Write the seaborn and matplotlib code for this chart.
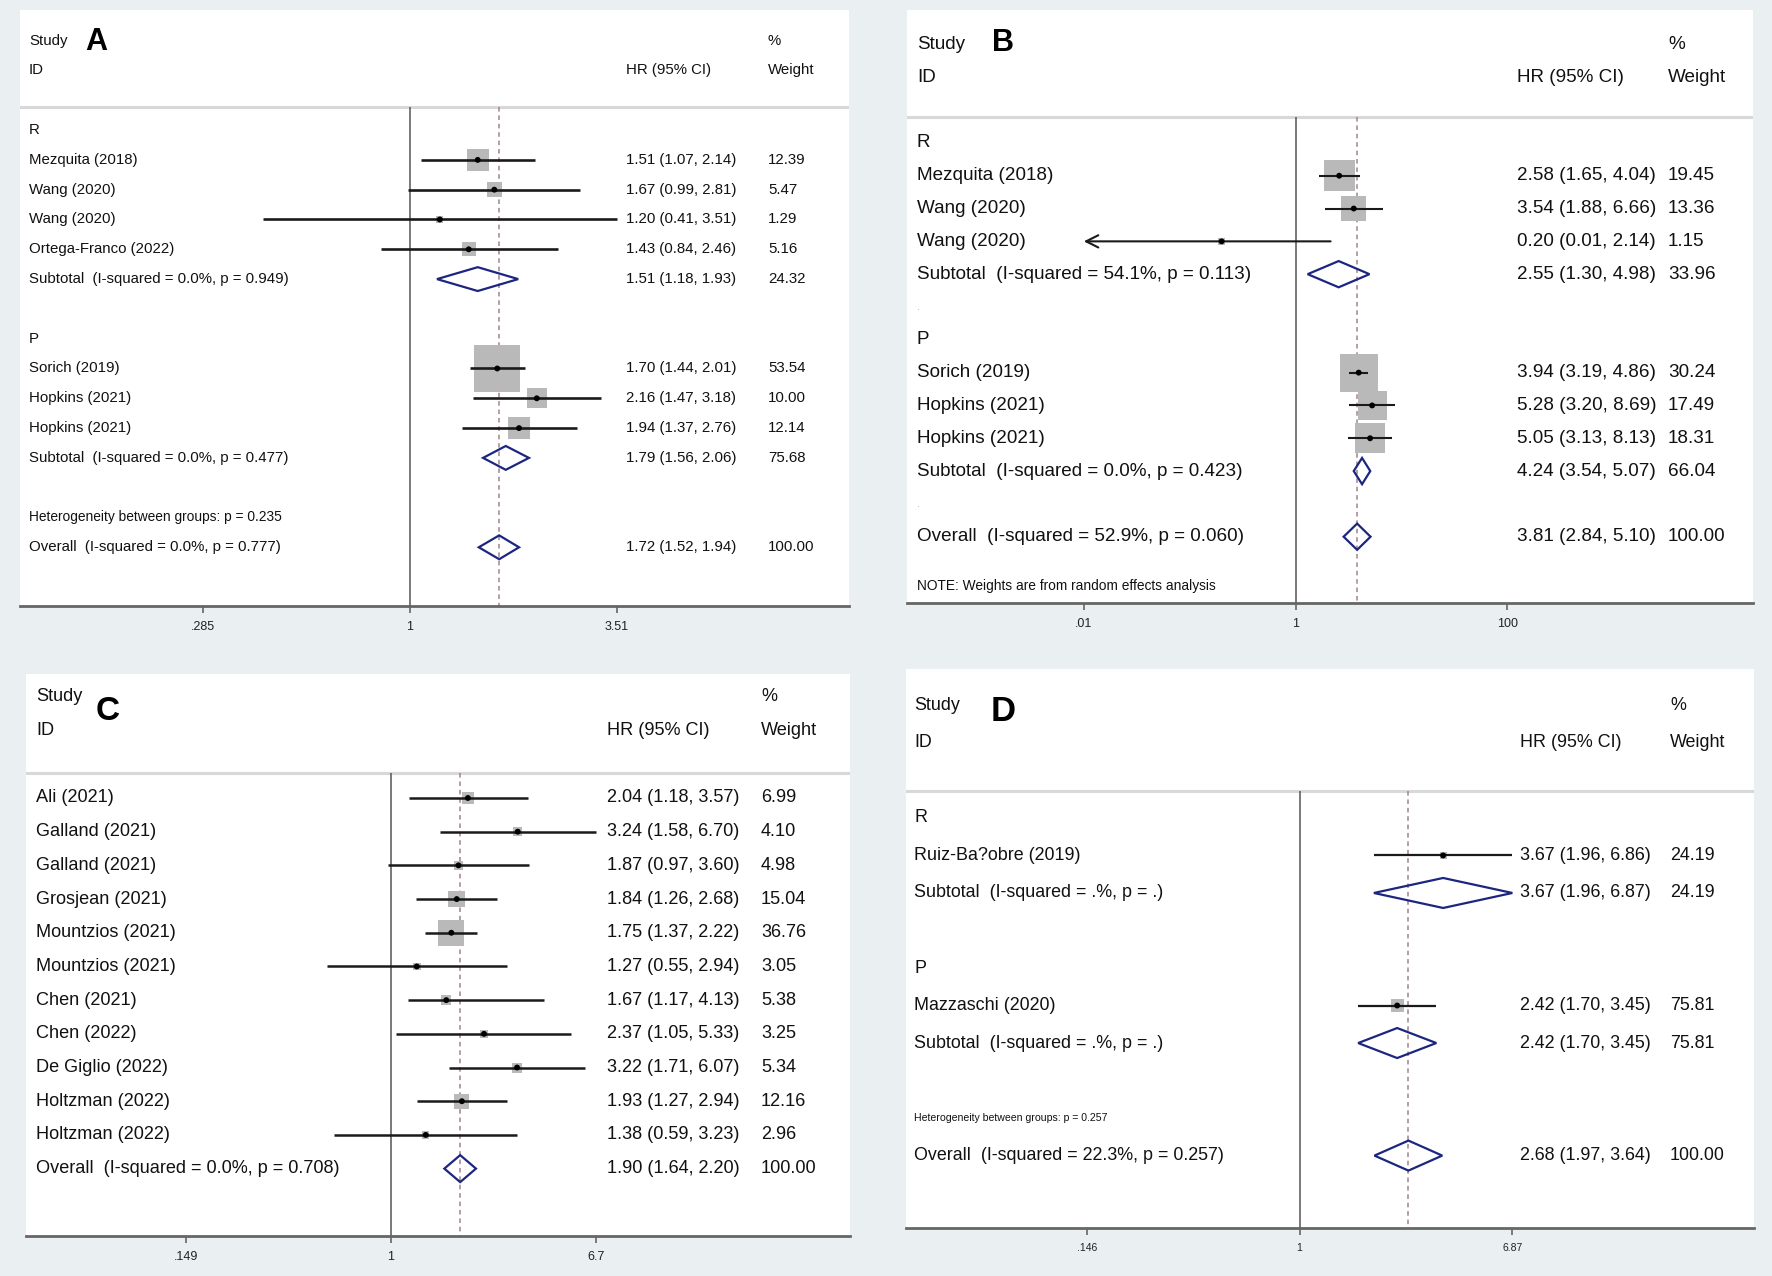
import numpy as np
import matplotlib
matplotlib.use("Agg")
import matplotlib.pyplot as plt
import seaborn as sns
from matplotlib.transforms import blended_transform_factory

nan = np.nan

# ---------------- Panel A ----------------
A_labels = ["R", "Mezquita (2018)", "Wang (2020)", "Wang (2020)", "Ortega-Franco (2022)",
            "Subtotal  (I-squared = 0.0%, p = 0.949)", "", "P", "Sorich (2019)",
            "Hopkins (2021)", "Hopkins (2021)", "Subtotal  (I-squared = 0.0%, p = 0.477)", "",
            "Heterogeneity between groups: p = 0.235", "Overall  (I-squared = 0.0%, p = 0.777)"]
A_kind = ["head", "study", "study", "study", "study", "pool", "blank", "head", "study",
          "study", "study", "pool", "blank", "note", "pool"]
A_hr = [nan, 1.51, 1.67, 1.20, 1.43, 1.51, nan, nan, 1.70, 2.16, 1.94, 1.79, nan, nan, 1.72]
A_lo = [nan, 1.07, 0.99, 0.41, 0.84, 1.18, nan, nan, 1.44, 1.47, 1.37, 1.56, nan, nan, 1.52]
A_hi = [nan, 2.14, 2.81, 3.51, 2.46, 1.93, nan, nan, 2.01, 3.18, 2.76, 2.06, nan, nan, 1.94]
A_wt = [nan, 12.39, 5.47, 1.29, 5.16, 24.32, nan, nan, 53.54, 10.00, 12.14, 75.68, nan, nan, 100.00]
A_ticks = [0.285, 1, 3.51]
A_ticklabels = [".285", "1", "3.51"]
A_arrow_rows = []
A_footnote = ""

# ---------------- Panel B ----------------
B_labels = ["R", "Mezquita (2018)", "Wang (2020)", "Wang (2020)",
            "Subtotal  (I-squared = 54.1%, p = 0.113)", ".", "P", "Sorich (2019)",
            "Hopkins (2021)", "Hopkins (2021)", "Subtotal  (I-squared = 0.0%, p = 0.423)", ".",
            "Overall  (I-squared = 52.9%, p = 0.060)"]
B_kind = ["head", "study", "study", "study", "pool", "dot", "head", "study", "study", "study",
          "pool", "dot", "pool"]
B_hr = [nan, 2.58, 3.54, 0.20, 2.55, nan, nan, 3.94, 5.28, 5.05, 4.24, nan, 3.81]
B_lo = [nan, 1.65, 1.88, 0.01, 1.30, nan, nan, 3.19, 3.20, 3.13, 3.54, nan, 2.84]
B_hi = [nan, 4.04, 6.66, 2.14, 4.98, nan, nan, 4.86, 8.69, 8.13, 5.07, nan, 5.10]
B_wt = [nan, 19.45, 13.36, 1.15, 33.96, nan, nan, 30.24, 17.49, 18.31, 66.04, nan, 100.00]
B_ticks = [0.01, 1, 100]
B_ticklabels = [".01", "1", "100"]
B_arrow_rows = [3]
B_footnote = "NOTE: Weights are from random effects analysis"

# ---------------- Panel C ----------------
C_labels = ["Ali (2021)", "Galland (2021)", "Galland (2021)", "Grosjean (2021)",
            "Mountzios (2021)", "Mountzios (2021)", "Chen (2021)", "Chen (2022)",
            "De Giglio (2022)", "Holtzman (2022)", "Holtzman (2022)",
            "Overall  (I-squared = 0.0%, p = 0.708)"]
C_kind = ["study"] * 11 + ["pool"]
C_hr = [2.04, 3.24, 1.87, 1.84, 1.75, 1.27, 1.67, 2.37, 3.22, 1.93, 1.38, 1.90]
C_lo = [1.18, 1.58, 0.97, 1.26, 1.37, 0.55, 1.17, 1.05, 1.71, 1.27, 0.59, 1.64]
C_hi = [3.57, 6.70, 3.60, 2.68, 2.22, 2.94, 4.13, 5.33, 6.07, 2.94, 3.23, 2.20]
C_wt = [6.99, 4.10, 4.98, 15.04, 36.76, 3.05, 5.38, 3.25, 5.34, 12.16, 2.96, 100.00]
C_ticks = [0.149, 1, 6.7]
C_ticklabels = [".149", "1", "6.7"]
C_arrow_rows = []
C_footnote = ""

# ---------------- Panel D ----------------
D_labels = ["R", "Ruiz-Ba?obre (2019)", "Subtotal  (I-squared = .%, p = .)", "", "P",
            "Mazzaschi (2020)", "Subtotal  (I-squared = .%, p = .)", "",
            "Heterogeneity between groups: p = 0.257", "Overall  (I-squared = 22.3%, p = 0.257)"]
D_kind = ["head", "study", "pool", "blank", "head", "study", "pool", "blank", "note", "pool"]
D_hr = [nan, 3.67, 3.67, nan, nan, 2.42, 2.42, nan, nan, 2.68]
D_lo = [nan, 1.96, 1.96, nan, nan, 1.70, 1.70, nan, nan, 1.97]
D_hi = [nan, 6.86, 6.87, nan, nan, 3.45, 3.45, nan, nan, 3.64]
D_wt = [nan, 24.19, 24.19, nan, nan, 75.81, 75.81, nan, nan, 100.00]
D_ticks = [0.146, 1, 6.87]
D_ticklabels = [".146", "1", "6.87"]
D_arrow_rows = []
D_footnote = ""

# ---------------- styling / layout ----------------
W, H = 1772, 1276
BG = "#eaeff1"
NAVY = "#1c2680"
DASH = "#a0828a"
BOXC = "#b9b9b9"
FONT = ["Liberation Sans", "DejaVu Sans"]

sns.set_theme(style="white")
plt.rcParams["font.family"] = FONT

fig = plt.figure(figsize=(W / 100, H / 100), dpi=100, facecolor=BG)

layouts = {
    "A": dict(box=(20, 849, 10, 606), one=409.7, ppl=165.0, ylim=(15.97, -4.03),
              cols=(29, 626, 768), fs=10.8, nfs=9.9, tfs=9.0, k=6.29, lw=1.9,
              letter=(96, 42, 22), sep=-0.77),
    "B": dict(box=(907, 1753, 10, 603), one=1295.6, ppl=46.0, ylim=(14.02, -4.05),
              cols=(917, 1517, 1668), fs=13.6, nfs=9.9, tfs=9.0, k=6.95, lw=1.5,
              letter=(1003, 43, 22), sep=-0.8),
    "C": dict(box=(26, 850, 674, 1236), one=391.0, ppl=107.8, ylim=(13.0, -3.68),
              cols=(36, 607, 761), fs=13.1, nfs=10.0, tfs=9.0, k=4.3, lw=1.8,
              letter=(108, 711, 24), sep=-0.74),
    "D": dict(box=(906, 1754, 669, 1228), one=1299.6, ppl=110.4, ylim=(10.93, -3.97),
              cols=(914, 1520, 1670), fs=12.9, nfs=7.6, tfs=7.5, k=1.46, lw=1.6,
              letter=(1003, 711, 25), sep=-0.72),
}

panels = {
    "A": (A_labels, A_kind, A_hr, A_lo, A_hi, A_wt, A_ticks, A_ticklabels, A_arrow_rows, A_footnote),
    "B": (B_labels, B_kind, B_hr, B_lo, B_hi, B_wt, B_ticks, B_ticklabels, B_arrow_rows, B_footnote),
    "C": (C_labels, C_kind, C_hr, C_lo, C_hi, C_wt, C_ticks, C_ticklabels, C_arrow_rows, C_footnote),
    "D": (D_labels, D_kind, D_hr, D_lo, D_hi, D_wt, D_ticks, D_ticklabels, D_arrow_rows, D_footnote),
}

for name, (labels, kind, hr, lo, hi, wt, ticks, ticklabels, arrows, foot) in panels.items():
    L = layouts[name]
    left, right, top, bottom = L["box"]
    ax = fig.add_axes([left / W, 1 - bottom / H, (right - left) / W, (bottom - top) / H])
    ax.set_facecolor("white")
    ax.set_xscale("log")
    ax.set_xlim(np.exp((left - L["one"]) / L["ppl"]), np.exp((right - L["one"]) / L["ppl"]))
    ax.set_ylim(*L["ylim"])
    ybot = L["ylim"][0]
    sep = L["sep"]
    tr = blended_transform_factory(ax.transAxes, ax.transData)
    fx = lambda px: (px - left) / (right - left)
    cx_lab, cx_hr, cx_wt = (fx(c) for c in L["cols"])

    # header
    ax.text(cx_lab, -3, "Study", transform=tr, fontsize=L["fs"], va="center", color="#111")
    ax.text(cx_lab, -2, "ID", transform=tr, fontsize=L["fs"], va="center", color="#111")
    ax.text(cx_hr, -2, "HR (95% CI)", transform=tr, fontsize=L["fs"], va="center", color="#111")
    ax.text(cx_wt, -3, "%", transform=tr, fontsize=L["fs"], va="center", color="#111")
    ax.text(cx_wt, -2, "Weight", transform=tr, fontsize=L["fs"], va="center", color="#111")
    ax.axhline(sep, color="#d8d8d8", lw=2.2, zorder=1)

    # reference lines
    overall = [h for h, kd in zip(hr, kind) if kd == "pool"][-1]
    ax.plot([1, 1], [sep, ybot], color="#555555", lw=1.1, zorder=1, solid_capstyle="butt")
    ax.plot([overall, overall], [sep, ybot], color=DASH, lw=1.1, dashes=(3, 2.5), zorder=1)

    ys = np.arange(len(labels))
    for i, (lab, kd) in enumerate(zip(labels, kind)):
        y = ys[i]
        if kd == "note":
            ax.text(cx_lab, y, lab, transform=tr, fontsize=L["nfs"], va="center", color="#111")
            continue
        if kd == "dot":
            ax.text(cx_lab, y, lab, transform=tr, fontsize=L["fs"] * 0.6, va="center", color="#aaaaaa")
            continue
        if lab:
            ax.text(cx_lab, y, lab, transform=tr, fontsize=L["fs"], va="center", color="#111")
        if kd in ("study", "pool"):
            txt = f"{hr[i]:.2f} ({lo[i]:.2f}, {hi[i]:.2f})"
            ax.text(cx_hr, y, txt, transform=tr, fontsize=L["fs"], va="center", color="#111")
            ax.text(cx_wt, y, f"{wt[i]:.2f}", transform=tr, fontsize=L["fs"], va="center", color="#111")
        if kd == "pool":
            h = 0.4
            ax.fill([lo[i], hr[i], hi[i], hr[i], lo[i]], [y, y - h, y, y + h, y],
                    facecolor="none", edgecolor=NAVY, lw=1.6, zorder=3, joinstyle="miter")

    # study boxes
    st = [i for i, kd in enumerate(kind) if kd == "study"]
    sx = np.array([hr[i] for i in st])
    sy = ys[st]
    side_pt = np.array([L["k"] * np.sqrt(wt[i]) for i in st]) / (100 / 72)
    ax.scatter(sx, sy, marker="s", s=side_pt ** 2, color=BOXC, edgecolors="none", zorder=2)

    # CI lines
    for i in st:
        if i in arrows:
            ax.annotate("", xy=(lo[i], ys[i]), xytext=(hi[i], ys[i]),
                        arrowprops=dict(arrowstyle="->", lw=L["lw"], color="#1a1a1a",
                                        mutation_scale=22, shrinkA=0, shrinkB=0), zorder=3)
        else:
            ax.plot([lo[i], hi[i]], [ys[i], ys[i]], color="#1a1a1a", lw=L["lw"],
                    solid_capstyle="butt", zorder=3)

    # point estimates
    sns.scatterplot(x=sx, y=sy, ax=ax, color="black", s=18, marker="o",
                    edgecolor="none", legend=False, zorder=4)

    if foot:
        ax.text(cx_lab, len(labels) + 0.5, foot, transform=tr, fontsize=L["nfs"],
                va="center", color="#111")

    # axes styling
    for s in ("top", "left", "right"):
        ax.spines[s].set_visible(False)
    ax.spines["bottom"].set_color("#666666")
    ax.spines["bottom"].set_linewidth(2.0)
    ax.set_yticks([])
    ax.set_xticks(ticks)
    ax.set_xticklabels(ticklabels, fontsize=L["tfs"], color="#222")
    ax.xaxis.set_minor_locator(matplotlib.ticker.NullLocator())
    ax.tick_params(axis="x", which="major", direction="out", length=5, width=1.2,
                   color="#666666", pad=6, bottom=True)
    ax.grid(False)

    lx, ly, lfs = L["letter"]
    fig.text(lx / W, 1 - ly / H, name, ha="center", va="center", fontsize=lfs,
             fontweight="bold", family=["Liberation Sans Narrow", "Liberation Sans", "DejaVu Sans"],
             color="black")

fig.savefig("out.png", dpi=100, facecolor=BG)
